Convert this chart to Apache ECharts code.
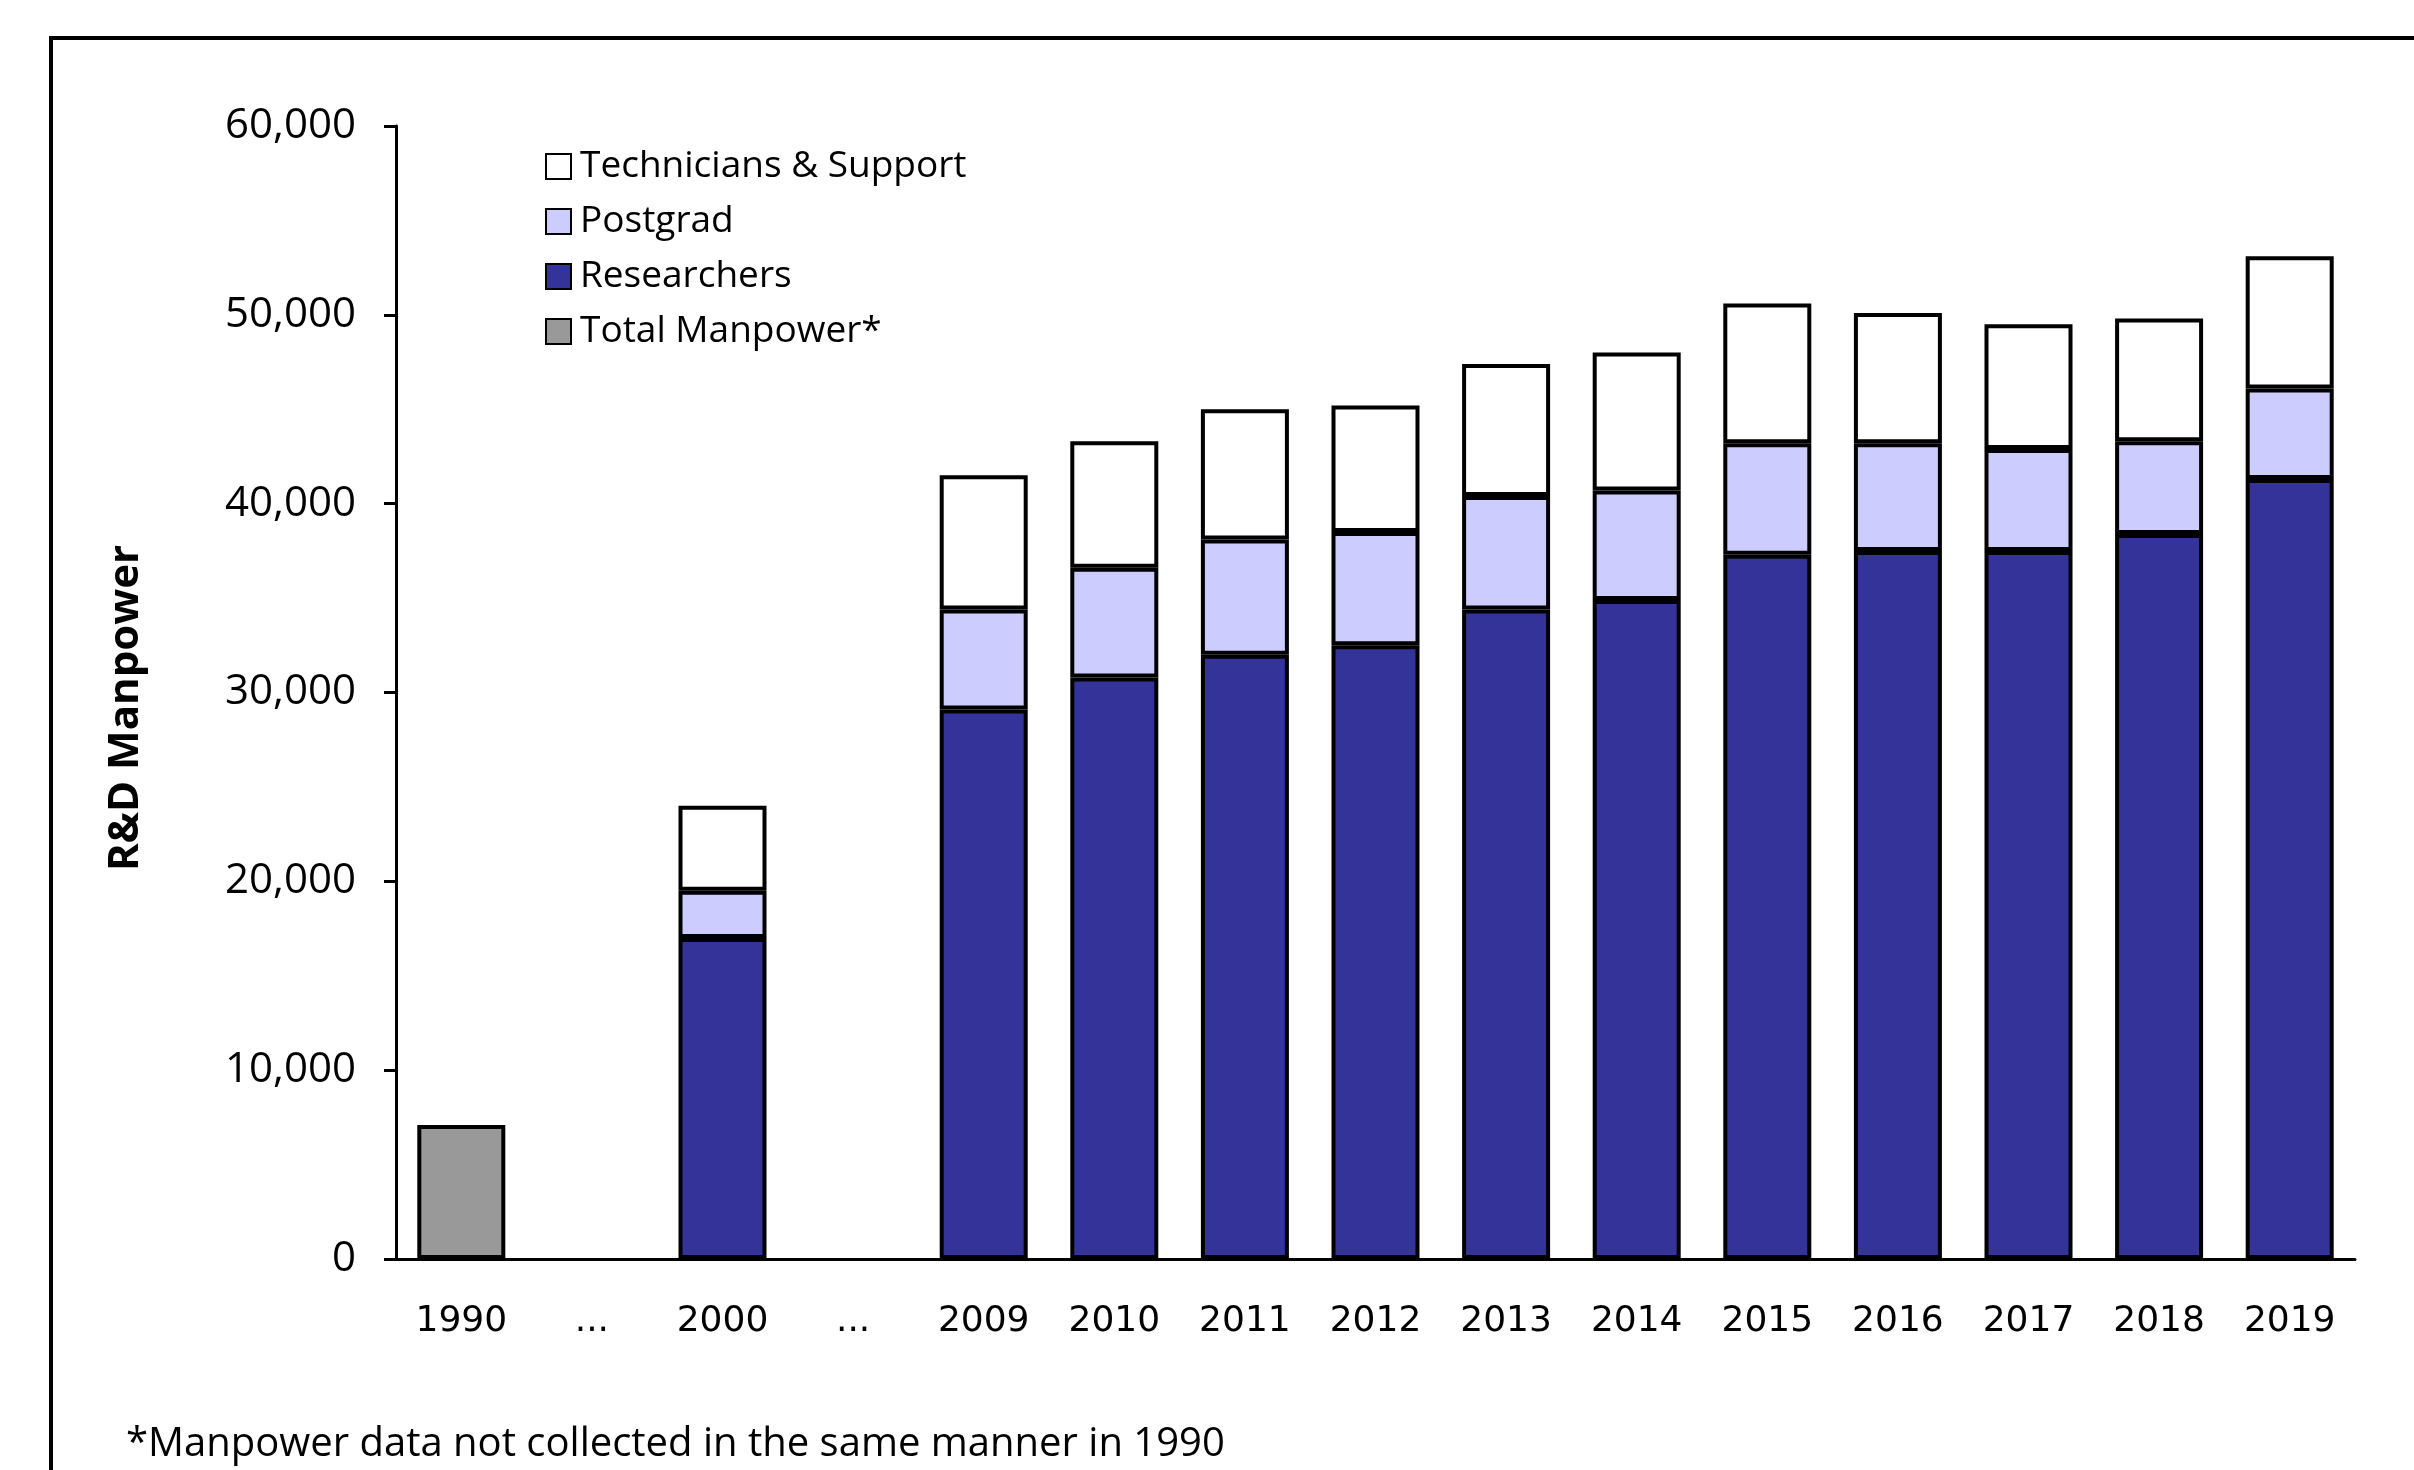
<!DOCTYPE html>
<html>
<head>
<meta charset="utf-8">
<script src="https://cdn.jsdelivr.net/npm/echarts@6/dist/echarts.min.js"></script>
<style>
html,body{margin:0;padding:0;background:#fff;}
#chart{width:2414px;height:1470px;}
</style>
</head>
<body>
<div id="chart"></div>
<script>
var categories = ['1990', '...', '2000', '...', '2009', '2010', '2011', '2012', '2013', '2014', '2015', '2016', '2017', '2018', '2019'];
var researchers = [null, null, 17000, null, 29100, 30800, 32000, 32500, 34400, 34900, 37300, 37500, 37500, 38400, 41300];
var postgrad    = [null, null, 2500, null, 5300, 5800, 6100, 6000, 6000, 5800, 5900, 5700, 5400, 4900, 4800];
var technicians = [null, null, 4500, null, 7100, 6700, 6900, 6700, 7000, 7300, 7400, 6900, 6600, 6500, 7000];
var totalManpower = [7100, null, null, null, null, null, null, null, null, null, null, null, null, null, null];
var yTicks = [0, 10000, 20000, 30000, 40000, 50000, 60000];

var chart = echarts.init(document.getElementById('chart'));
var border = {borderColor: '#000', borderWidth: 4};
function bar(name, data, color) {
  return {
    name: name, type: 'bar', stack: 'all', data: data, barWidth: 88,
    itemStyle: Object.assign({color: color}, border)
  };
}
chart.setOption({
  animation: false,
  backgroundColor: '#fff',
  graphic: [{
    type: 'rect', shape: {x: 51, y: 38, width: 2450, height: 1500},
    style: {fill: 'none', stroke: '#000', lineWidth: 4}
  }, {
    type: 'text', left: 126, top: 1425,
    style: {text: '*Manpower data not collected in the same manner in 1990', font: '40px "Open Sans"', fill: '#000'}
  }, {
    type: 'text', x: 126, y: 708, rotation: Math.PI / 2,
    style: {text: 'R&D Manpower', font: 'bold 42px "Open Sans"', fill: '#000', textAlign: 'center', textVerticalAlign: 'middle'}
  }],
  legend: {
    orient: 'vertical', left: 540, top: 143, itemGap: 18, itemWidth: 25, itemHeight: 25,
    icon: 'rect',
    textStyle: {fontFamily: 'Open Sans', fontSize: 37, color: '#000', padding: [0, 0, 0, 4]},
    data: ['Technicians & Support', 'Postgrad', 'Researchers', 'Total Manpower*']
  },
  grid: {left: 396, right: 59, top: 126, bottom: 211, containLabel: false},
  xAxis: {
    type: 'category', data: categories,
    axisLine: {lineStyle: {color: '#000', width: 3}},
    axisTick: {length: 12, lineStyle: {color: '#000', width: 3}},
    axisLabel: {fontFamily: 'DejaVu Sans', fontSize: 36, color: '#000', margin: 45, interval: 0}
  },
  yAxis: {
    type: 'value', min: yTicks[0], max: yTicks[yTicks.length - 1], interval: 10000,
    axisLine: {show: true, lineStyle: {color: '#000', width: 3}},
    axisTick: {show: true, length: 12, lineStyle: {color: '#000', width: 3}},
    splitLine: {show: false},
    axisLabel: {fontFamily: 'Open Sans', fontSize: 42, color: '#000', margin: 40,
      formatter: function (v) { return v.toLocaleString('en-US'); }}
  },
  series: [
    bar('Researchers', researchers, '#333399'),
    bar('Postgrad', postgrad, '#CCCCFF'),
    bar('Technicians & Support', technicians, '#FFFFFF'),
    bar('Total Manpower*', totalManpower, '#999999')
  ]
});
</script>
</body>
</html>
